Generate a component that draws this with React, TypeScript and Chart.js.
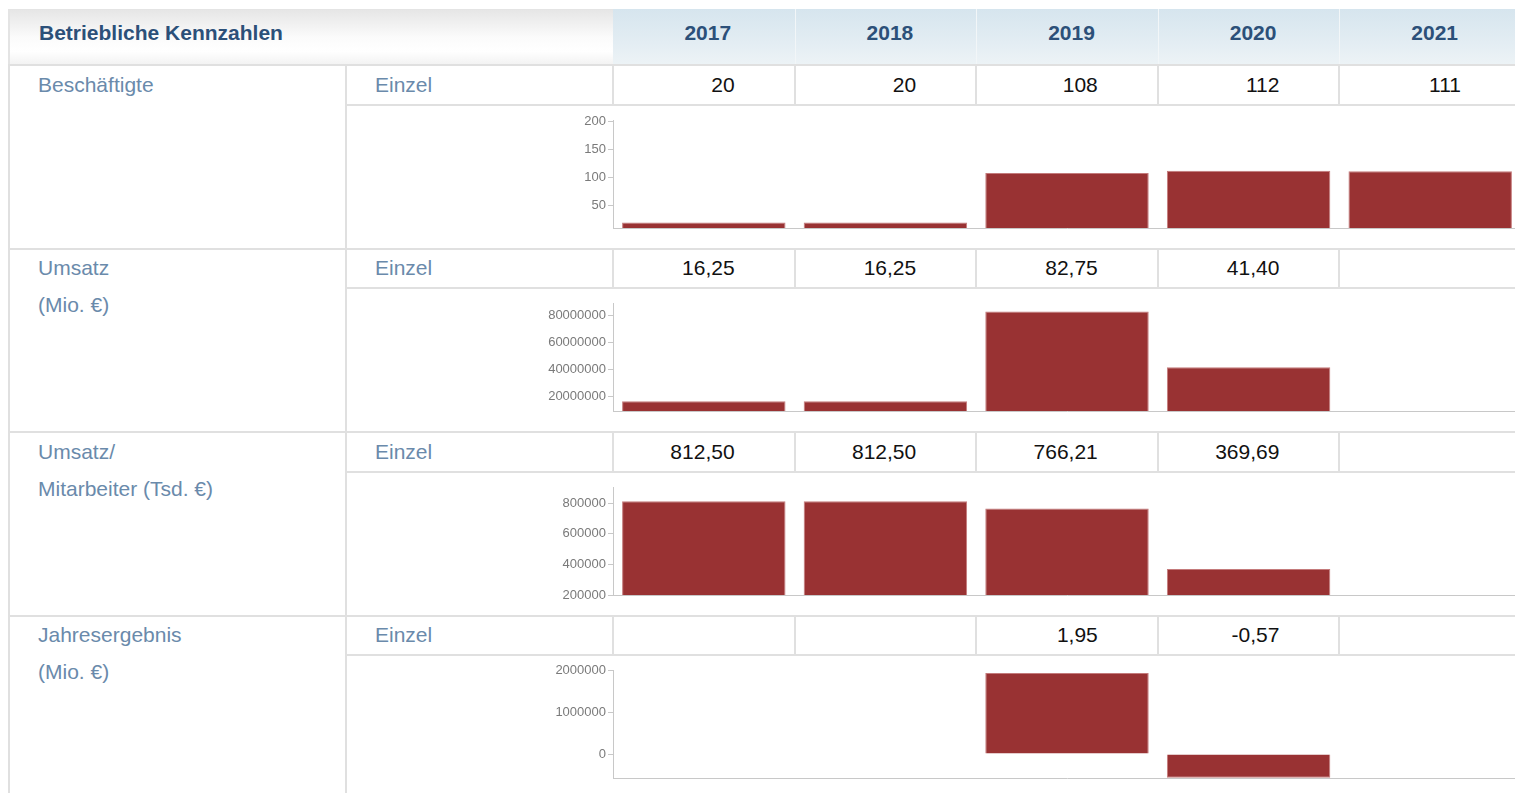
import React, { useEffect, useRef } from "react";
import { Chart, registerables } from "chart.js";

Chart.register(...registerables);

const years = ["2017", "2018", "2019", "2020", "2021"];

const beschaeftigte: (number | null)[] = [20, 20, 108, 112, 111];
const umsatz: (number | null)[] = [16250000, 16250000, 82750000, 41400000, null];
const umsatzProMitarbeiter: (number | null)[] = [812500, 812500, 766210, 369690, null];
const jahresergebnis: (number | null)[] = [null, null, 1950000, -570000, null];

const ticksBeschaeftigte = [50, 100, 150, 200];
const ticksUmsatz = [20000000, 40000000, 60000000, 80000000];
const ticksUmsatzProMitarbeiter = [200000, 400000, 600000, 800000];
const ticksJahresergebnis = [0, 1000000, 2000000];

const rangeBeschaeftigte = [10, 202];
const rangeUmsatz = [9000000, 89000000];
const rangeUmsatzProMitarbeiter = [200000, 906000];
const rangeJahresergebnis = [-576000, 2020000];

const FONT = '"Liberation Sans", Arial, Helvetica, sans-serif';
const LABEL_COLOR = "#6a8aab";
const TITLE_COLOR = "#2c5079";
const LINE = "#e0e0e0";
const BAR = "#993233";

const fmtDe = (v: number | null, div: number, dec: number) =>
  v === null ? "" : (v / div).toFixed(dec).replace(".", ",");

interface Block {
  label: string[];
  values: (number | null)[];
  text: string[];
  ticks: number[];
  range: number[];
}

const blocks: Block[] = [
  {
    label: ["Beschäftigte"],
    values: beschaeftigte,
    text: beschaeftigte.map((v) => fmtDe(v, 1, 0)),
    ticks: ticksBeschaeftigte,
    range: rangeBeschaeftigte,
  },
  {
    label: ["Umsatz", "(Mio. €)"],
    values: umsatz,
    text: umsatz.map((v) => fmtDe(v, 1e6, 2)),
    ticks: ticksUmsatz,
    range: rangeUmsatz,
  },
  {
    label: ["Umsatz/", "Mitarbeiter (Tsd. €)"],
    values: umsatzProMitarbeiter,
    text: umsatzProMitarbeiter.map((v) => fmtDe(v, 1e3, 2)),
    ticks: ticksUmsatzProMitarbeiter,
    range: rangeUmsatzProMitarbeiter,
  },
  {
    label: ["Jahresergebnis", "(Mio. €)"],
    values: jahresergebnis,
    text: jahresergebnis.map((v) => fmtDe(v, 1e6, 2)),
    ticks: ticksJahresergebnis,
    range: rangeJahresergebnis,
  },
];

// layout (page coordinates; container sits at 8,8)
const O = 8;
const C0 = 8;
const C1 = 345;
const C2 = 613;
const RIGHT = 1521;
const YW = (RIGHT - C2) / 5;
const HEADER_TOP = 9;
const HEADER_BOTTOM = 65;
const BLOCK_H = 183.5;
const VALUE_H = 39.5;
const CHART_H = 144;

function MiniChart({ values, ticks, range }: { values: (number | null)[]; ticks: number[]; range: number[] }) {
  const ref = useRef<HTMLCanvasElement>(null);
  useEffect(() => {
    if (!ref.current) return;
    const chart = new Chart(ref.current, {
      type: "bar",
      data: {
        labels: years,
        datasets: [
          {
            data: values,
            backgroundColor: BAR,
            borderColor: "#c47a7b",
            borderWidth: 1,
            barPercentage: 0.9,
            categoryPercentage: 1,
          },
        ],
      },
      options: {
        animation: false,
        responsive: false,
        layout: { padding: { top: 15, bottom: 21, left: 0, right: 0 } },
        plugins: { legend: { display: false }, tooltip: { enabled: false } },
        scales: {
          x: {
            type: "category",
            offset: true,
            ticks: { display: false },
            grid: { display: false },
            border: { display: true, color: "#c8c8c8", width: 1 },
            afterFit: (s: any) => {
              s.height = 0;
            },
          },
          y: {
            min: range[0],
            max: range[1],
            afterBuildTicks: (s: any) => {
              s.ticks = ticks.map((v) => ({ value: v }));
            },
            afterFit: (s: any) => {
              s.width = C2 - C1;
            },
            ticks: {
              callback: (v: any) => String(v),
              font: { family: FONT, size: 13 },
              color: "#7a7a7a",
              padding: 2,
              autoSkip: false,
            },
            grid: {
              display: true,
              drawOnChartArea: false,
              drawTicks: true,
              tickLength: 5,
              color: "#c8c8c8",
            },
            border: { display: true, color: "#c8c8c8", width: 1 },
          },
        },
      } as any,
    });
    return () => chart.destroy();
  }, [values, ticks, range]);
  return (
    <canvas
      ref={ref}
      width={RIGHT - C1}
      height={CHART_H}
      style={{ display: "block", width: RIGHT - C1, height: CHART_H }}
    />
  );
}

const abs = (left: number, top: number, width: number, height: number, extra: React.CSSProperties = {}): React.CSSProperties => ({
  position: "absolute",
  left: left - O,
  top: top - O,
  width,
  height,
  boxSizing: "border-box",
  ...extra,
});

export default function App() {
  useEffect(() => {
    const prevHtml = document.documentElement.style.overflow;
    const prevBody = document.body.style.overflow;
    document.documentElement.style.overflow = "hidden";
    document.body.style.overflow = "hidden";
    return () => {
      document.documentElement.style.overflow = prevHtml;
      document.body.style.overflow = prevBody;
    };
  }, []);

  const els: React.ReactNode[] = [];

  els.push(
    <div
      key="hl"
      style={abs(C0, HEADER_TOP, C2 - C0, HEADER_BOTTOM - HEADER_TOP, {
        background: "linear-gradient(to bottom, #e6e6e6 0%, #fbfbfb 50%, #ffffff 75%, #f2f2f2 100%)",
        borderTop: "1px solid #e4e4e4",
        borderLeft: "2px solid #e4e4e4",
      })}
    >
      <div
        style={{
          position: "absolute",
          left: 39 - C0 - 2,
          top: 0,
          lineHeight: "46px",
          fontFamily: FONT,
          fontWeight: "bold",
          fontSize: 21,
          color: TITLE_COLOR,
          whiteSpace: "nowrap",
        }}
      >
        Betriebliche Kennzahlen
      </div>
    </div>
  );
  years.forEach((y, i) => {
    els.push(
      <div
        key={"hy" + i}
        style={abs(C2 + i * YW, HEADER_TOP, YW, HEADER_BOTTOM - HEADER_TOP, {
          background: "linear-gradient(to bottom, #d6e5ee 0%, #e3edf3 60%, #edf3f6 100%)",
          borderLeft: i === 0 ? "none" : "1px solid #f2f6f8",
          textAlign: "center",
          paddingLeft: 8,
          lineHeight: "48px",
          fontFamily: FONT,
          fontWeight: "bold",
          fontSize: 21,
          color: TITLE_COLOR,
        })}
      >
        {y}
      </div>
    );
  });
  els.push(<div key="hb" style={abs(C0, HEADER_BOTTOM - 1, RIGHT - C0, 2, { background: LINE })} />);

  blocks.forEach((b, bi) => {
    const top = HEADER_BOTTOM + bi * BLOCK_H;
    const chartTop = top + VALUE_H;
    els.push(<div key={"lb" + bi} style={abs(C0, top, 2, BLOCK_H, { background: LINE })} />);
    els.push(<div key={"s1" + bi} style={abs(C1, top, 2, BLOCK_H, { background: LINE })} />);
    els.push(<div key={"rb" + bi} style={abs(RIGHT - 2, top, 2, BLOCK_H, { background: LINE })} />);
    els.push(<div key={"bb" + bi} style={abs(C0, top + BLOCK_H - 1, RIGHT - C0, 2, { background: LINE })} />);
    els.push(<div key={"vs" + bi} style={abs(C1, chartTop - 1, RIGHT - C1, 2, { background: LINE })} />);
    for (let i = 0; i < 5; i++) {
      els.push(
        <div key={"cs" + bi + "-" + i} style={abs(C2 + i * YW - 1, top, 2, VALUE_H, { background: LINE })} />
      );
    }
    els.push(
      <div
        key={"lab" + bi}
        style={abs(38, top + 0.5, C1 - 38, 80, {
          fontFamily: FONT,
          fontSize: 21,
          lineHeight: "37px",
          color: LABEL_COLOR,
          whiteSpace: "nowrap",
        })}
      >
        {b.label.map((l, li) => (
          <div key={li}>{l}</div>
        ))}
      </div>
    );
    els.push(
      <div
        key={"ein" + bi}
        style={abs(375, top + 0.5, 200, 37, {
          fontFamily: FONT,
          fontSize: 21,
          lineHeight: "37px",
          color: LABEL_COLOR,
        })}
      >
        Einzel
      </div>
    );
    b.text.forEach((t, i) => {
      els.push(
        <div
          key={"v" + bi + "-" + i}
          style={abs(C2 + i * YW, top + 0.5, YW, 37, {
            fontFamily: FONT,
            fontSize: 21,
            lineHeight: "37px",
            color: "#111",
            textAlign: "right",
            paddingRight: 60,
          })}
        >
          {t}
        </div>
      );
    });
    els.push(
      <div key={"ch" + bi} style={abs(C1, chartTop, RIGHT - C1, CHART_H)}>
        <MiniChart values={b.values} ticks={b.ticks} range={b.range} />
      </div>
    );
  });

  return (
    <div style={{ position: "relative", width: RIGHT - O, height: 785, overflow: "hidden" }}>{els}</div>
  );
}
